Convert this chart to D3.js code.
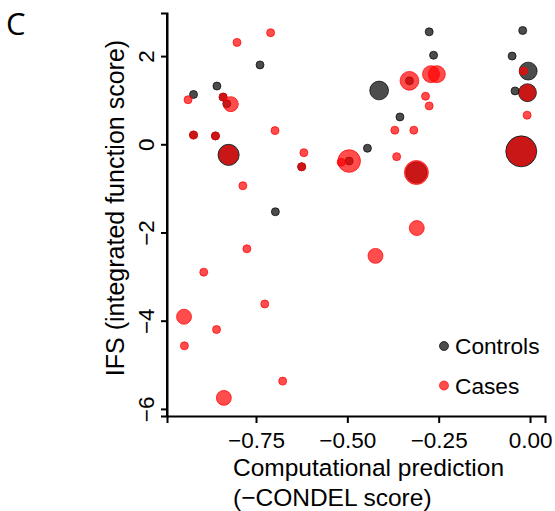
<!DOCTYPE html>
<html>
<head>
<meta charset="utf-8">
<script src="https://cdn.jsdelivr.net/npm/d3@7"></script>
<style>
  html, body { margin: 0; padding: 0; background: #fff; }
  svg { display: block; }
  text { font-family: "Liberation Sans", Arial, sans-serif; fill: #000; }
</style>
</head>
<body>
<script>
// ---- data ----
const xTicks = [-0.75, -0.50, -0.25, 0.00];
const yTicks = [-6, -4, -2, 0, 2];
const groups = ["Controls", "Cases"];

// Controls: -CONDEL score, IFS, size (weight)
const controlX = [-0.921, -0.857, -0.739, -0.830, -0.840, -0.921, -0.861, -0.825, -0.625, -0.495, -0.697,
                  -0.276, -0.020, -0.264, -0.049, -0.005, -0.330, -0.413, -0.041, -0.007, -0.356, -0.445, -0.311, -0.024];
const controlY = [1.13, 1.32, 1.80, 0.92, 1.07, 0.21, 0.19, -0.24, -0.51, -0.38, -1.53,
                  2.55, 2.58, 2.02, 2.00, 1.66, 1.44, 1.22, 1.21, 1.17, 0.62, -0.09, -0.64, -0.16];
const controlSize = [1, 1, 1, 1, 1, 1, 1, 7, 1, 1, 1,
                     1, 1, 1, 1, 5, 1, 5.5, 1, 5, 1, 1, 7, 15];

// Cases
const caseX = [-0.710, -0.802, -0.936, -0.840, -0.819, -0.921, -0.861, -0.698, -0.825, -0.619, -0.625, -0.495,
               -0.517, -0.786, -0.775, -0.893, -0.726, -0.947, -0.858, -0.946, -0.677, -0.838, -0.310, -0.423,
               -0.018, -0.271, -0.255, -0.330, -0.286, -0.276, -0.008, -0.370, -0.318, -0.365, -0.311, -0.024, -0.007];
const caseY = [2.53, 2.31, 1.01, 1.07, 0.91, 0.21, 0.19, 0.31, -0.24, -0.19, -0.51, -0.38,
               -0.41, -0.94, -2.37, -2.90, -3.62, -3.91, -4.20, -4.57, -5.37, -5.75, -1.90, -2.53,
               1.66, 1.59, 1.59, 1.44, 1.09, 0.87, 0.66, 0.32, 0.32, -0.28, -0.64, -0.16, 1.17];
const caseSize = [1, 1, 1, 1, 3.5, 1, 1, 1, 5.5, 1, 1, 8,
                  1, 1, 1, 1, 1, 3.5, 1, 1, 1, 3.5, 3.5, 3.5,
                  1, 4.5, 4.5, 5.5, 1, 1, 1, 1, 1, 1, 9, 13, 4];

// ---- chart ----
const W = 555, H = 511;
const svg = d3.select("body").append("svg").attr("width", W).attr("height", H);

const x = d3.scaleLinear().domain([-0.9936, 0.041]).range([167, 545]);
const y = d3.scaleLinear().domain([-6.161, 2.977]).range([416, 13]);
const r = d3.scaleSqrt().domain([0, 15]).range([0, 4 * Math.sqrt(15)]);
const colors = { Controls: "rgba(0,0,0,0.7)", Cases: "rgba(255,0,0,0.7)" };

const controls = controlX.map((v, i) => ({ x: v, y: controlY[i], s: controlSize[i], g: "Controls" }));
const cases = caseX.map((v, i) => ({ x: v, y: caseY[i], s: caseSize[i], g: "Cases" }));

// points: controls first, cases on top
const pts = svg.append("g");
[controls, cases].forEach(arr => {
  pts.append("g").selectAll("circle").data(arr).join("circle")
    .attr("cx", d => x(d.x)).attr("cy", d => y(d.y)).attr("r", d => r(d.s))
    .attr("fill", d => colors[d.g]).attr("stroke", d => colors[d.g]).attr("stroke-width", 1);
});

// axes
const fmtX = d3.format(".2f");
const xAxis = svg.append("g").attr("transform", "translate(0,416)")
  .call(d3.axisBottom(x).tickValues(xTicks).tickFormat(fmtX).tickSizeOuter(0).tickSize(7).tickPadding(4));
const yAxis = svg.append("g").attr("transform", "translate(167,0)")
  .call(d3.axisLeft(y).tickValues(yTicks).tickFormat(d3.format("d")).tickSizeOuter(0).tickSize(6));

[xAxis, yAxis].forEach(a => {
  a.select(".domain").attr("stroke", "#000").attr("stroke-width", 2);
  a.selectAll(".tick line").attr("stroke", "#000").attr("stroke-width", 2);
  a.selectAll("text").style("font-family", "'Liberation Sans', Arial, sans-serif").attr("fill", "#000");
});
xAxis.selectAll(".tick text").style("font-size", "22.5px").attr("dy", "0.95em");
yAxis.selectAll(".tick text")
  .style("font-size", "22.5px")
  .attr("text-anchor", "middle")
  .attr("x", null).attr("dy", null)
  .attr("transform", "translate(-13,0) rotate(-90)");

// L-corner: y axis line meets x axis
svg.append("line").attr("x1", 167).attr("x2", 167).attr("y1", 13).attr("y2", 417)
  .attr("stroke", "#000").attr("stroke-width", 2);

// axis titles
const xt = svg.append("text").attr("x", 233).attr("y", 476).style("font-size", "24.5px");
xt.append("tspan").attr("x", 233).text("Computational prediction");
xt.append("tspan").attr("x", 233).attr("dy", 30).text("(\u2212CONDEL score)");

svg.append("text")
  .attr("transform", "translate(124,208) rotate(-90)")
  .attr("text-anchor", "middle")
  .style("font-size", "25px")
  .text("IFS (integrated function score)");

// legend
const leg = svg.append("g");
groups.forEach((g, i) => {
  const cy = 346 + i * 39.5;
  leg.append("circle").attr("cx", 444).attr("cy", cy).attr("r", 4.5)
    .attr("fill", colors[g]).attr("stroke", colors[g]).attr("stroke-width", 1);
  leg.append("text").attr("x", 455).attr("y", cy).attr("dy", "0.36em")
    .style("font-size", "22.7px").text(g);
});

// panel label
svg.append("text").attr("x", 6).attr("y", 35)
  .style("font-family", "'Open Sans', sans-serif").style("font-size", "31px")
  .text("C");
</script>
</body>
</html>
